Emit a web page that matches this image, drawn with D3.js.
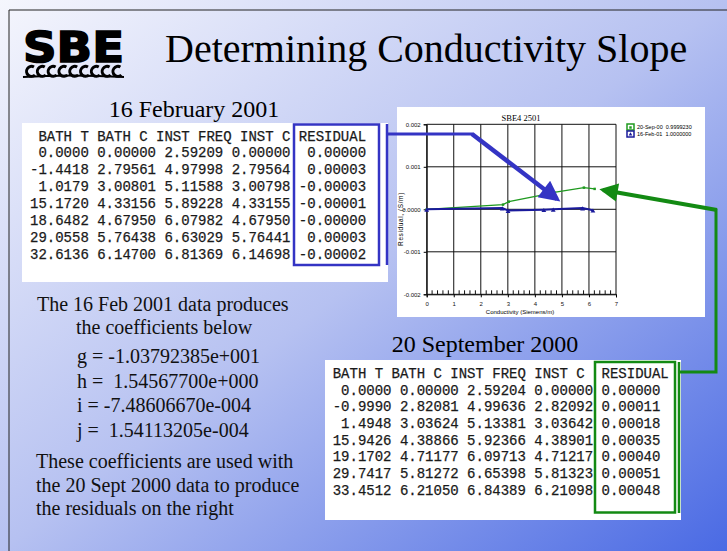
<!DOCTYPE html>
<html>
<head>
<meta charset="utf-8">
<script src="https://cdn.jsdelivr.net/npm/d3@7"></script>
<style>
  html, body { margin: 0; padding: 0; background: #fff; }
  svg { display: block; }
</style>
</head>
<body>
<div id="slide"></div>
<script>
// 16 Feb 2001 calibration
const febBathT = [0.0, -1.4418, 1.0179, 15.172, 18.6482, 29.0558, 32.6136]
const febBathC = [0.0, 2.79561, 3.00801, 4.33156, 4.6795, 5.76438, 6.147]
const febInstFreq = [2.59209, 4.97998, 5.11588, 5.89228, 6.07982, 6.63029, 6.81369]
const febInstC = [0.0, 2.79564, 3.00798, 4.33155, 4.6795, 5.76441, 6.14698]
const febResidual = [0.0, 0.00003, -0.00003, -0.00001, -0.000001, 0.00003, -0.00002]

// 20 Sep 2000 calibration
const sepBathT = [0.0, -0.999, 1.4948, 15.9426, 19.1702, 29.7417, 33.4512]
const sepBathC = [0.0, 2.82081, 3.03624, 4.38866, 4.71177, 5.81272, 6.2105]
const sepInstFreq = [2.59204, 4.99636, 5.13381, 5.92366, 6.09713, 6.65398, 6.84389]
const sepInstC = [0.0, 2.82092, 3.03642, 4.38901, 4.71217, 5.81323, 6.21098]
const sepResidual = [0.0, 0.00011, 0.00018, 0.00035, 0.0004, 0.00051, 0.00048]

const xTicks = [0, 1, 2, 3, 4, 5, 6, 7]
const yTicks = [-0.002, -0.001, 0, 0.001, 0.002]
const legendLabels = ["20-Sep-00  0.9999230", "16-Feb-01  1.0000000"]

const coefLines = [
  "g = -1.03792385e+001",
  "h =  1.54567700e+000",
  "i = -7.48606670e-004",
  "j =  1.54113205e-004"
]

const W = 727, H = 551
const serif = "'Liberation Serif', 'Times New Roman', serif"
const mono = "'Liberation Mono', 'Courier New', monospace"
const sans = "'Liberation Sans', Arial, sans-serif"

const svg = d3.select("#slide").append("svg")
  .attr("width", W)
  .attr("height", H)

const defs = svg.append("defs")
const grad = defs.append("linearGradient")
  .attr("id", "bg")
  .attr("x1", 0).attr("y1", 0).attr("x2", 1).attr("y2", 1)
grad.append("stop").attr("offset", 0).attr("stop-color", "#f5f6fd")
grad.append("stop").attr("offset", 0.5).attr("stop-color", "#b6c1f1")
grad.append("stop").attr("offset", 1).attr("stop-color", "#4a6ae4")

svg.append("rect").attr("width", W).attr("height", H).attr("fill", "url(#bg)")
// slide frame
svg.append("path")
  .attr("d", `M9,${H} V10 H${W}`)
  .attr("fill", "none").attr("stroke", "#222").attr("stroke-width", 1)

// ---- logo
svg.append("text")
  .attr("x", 23).attr("y", 62)
  .attr("font-family", "'DejaVu Sans', sans-serif")
  .attr("font-weight", "bold")
  .attr("font-size", 43)
  .attr("textLength", 101)
  .attr("lengthAdjust", "spacingAndGlyphs")
  .attr("fill", "#000")
  .attr("stroke", "#000").attr("stroke-width", 1.6)
  .text("SBE")
const waves = svg.append("g")
for (let k = 0; k < 9; k++) {
  const cx = 30 + k * 10.8
  waves.append("path")
    .attr("d", `M${cx + 4},${67} A5,5 0 1,0 ${cx + 5},${75}`)
    .attr("fill", "none").attr("stroke", "#000").attr("stroke-width", 3)
}
waves.append("path")
  .attr("d", "M23,77 Q70,74 124,77")
  .attr("fill", "none").attr("stroke", "#000").attr("stroke-width", 2.2)

// ---- title
svg.append("text")
  .attr("x", 165).attr("y", 62)
  .attr("font-family", serif)
  .attr("font-size", 40)
  .attr("fill", "#000")
  .text("Determining Conductivity Slope")

// ---- tables
const f5 = v => Math.abs(v).toFixed(5)
const pad = (s, n) => s.padStart(n, " ")

function drawTable(opts) {
  const g = svg.append("g")
  g.append("rect")
    .attr("x", opts.panel[0]).attr("y", opts.panel[1])
    .attr("width", opts.panel[2]).attr("height", opts.panel[3])
    .attr("fill", "#fff")
  g.append("text")
    .attr("x", opts.headX).attr("y", opts.headY)
    .attr("font-family", serif).attr("font-size", 24)
    .attr("text-anchor", "middle")
    .text(opts.heading)
  const lines = [opts.header].concat(opts.bathT.map((d, i) =>
    pad(d.toFixed(4), 7) + " " + f5(opts.bathC[i]) + " " + f5(opts.freq[i]) + " " +
    f5(opts.instC[i]) + opts.resid(opts.residual[i])))
  g.selectAll("text.row")
    .data(lines)
    .join("text")
    .attr("class", "row")
    .attr("x", opts.x)
    .attr("y", (d, i) => opts.y0 + i * opts.dy)
    .attr("font-family", mono)
    .attr("font-size", 14)
    .attr("fill", "#1a1a1a")
    .attr("stroke", "#1a1a1a").attr("stroke-width", 0.25)
    .style("white-space", "pre")
    .text(d => d)
  g.append("rect")
    .attr("x", opts.box[0]).attr("y", opts.box[1])
    .attr("width", opts.box[2]).attr("height", opts.box[3])
    .attr("fill", "none").attr("stroke", opts.color).attr("stroke-width", 2.5)
}

drawTable({
  panel: [22, 123, 366, 159],
  heading: "16 February 2001", headX: 194, headY: 117,
  header: " BATH T BATH C INST FREQ INST C RESIDUAL",
  bathT: febBathT, bathC: febBathC, freq: febInstFreq, instC: febInstC, residual: febResidual,
  resid: v => " " + (v < 0 ? "-" : " ") + Math.abs(v).toFixed(5),
  x: 30, y0: 140.5, dy: 16.9,
  box: [294, 124.5, 85, 140.5], color: "#3434c4"
})

drawTable({
  panel: [325, 360, 356, 160],
  heading: "20 September 2000", headX: 485, headY: 352,
  header: "BATH T BATH C INST FREQ INST C  RESIDUAL",
  bathT: sepBathT, bathC: sepBathC, freq: sepInstFreq, instC: sepInstC, residual: sepResidual,
  resid: v => " " + (v < 0 ? "-" : "") + Math.abs(v).toFixed(5),
  x: 332.7, y0: 378, dy: 16.67,
  box: [595, 362, 80, 150.5], color: "#138a13"
})

// ---- left text
const txt = svg.append("g").attr("font-family", serif).attr("font-size", 20).attr("fill", "#111")
txt.append("text").attr("x", 37).attr("y", 311).text("The 16 Feb 2001 data produces")
txt.append("text").attr("x", 76).attr("y", 334).text("the coefficients below")
txt.selectAll("text.coef")
  .data(coefLines)
  .join("text")
  .attr("class", "coef")
  .attr("x", 77)
  .attr("y", (d, i) => 363 + i * 24.5)
  .style("white-space", "pre")
  .text(d => d)
const para = ["These coefficients are used with", "the 20 Sept 2000 data to produce", "the residuals on the right"]
txt.selectAll("text.para")
  .data(para)
  .join("text")
  .attr("class", "para")
  .attr("x", 36)
  .attr("y", (d, i) => 468 + i * 23.5)
  .text(d => d)

// ---- chart
svg.append("rect")
  .attr("x", 397).attr("y", 107).attr("width", 308).attr("height", 210)
  .attr("fill", "#fff")

const x = d3.scaleLinear().domain([0, 7]).range([426.7, 616])
const y = d3.scaleLinear().domain([-0.002, 0.002]).range([294.3, 124.3])

const chart = svg.append("g")

// grid
chart.selectAll("line.vg")
  .data(xTicks)
  .join("line")
  .attr("class", "vg")
  .attr("x1", d => x(d)).attr("x2", d => x(d))
  .attr("y1", y.range()[1]).attr("y2", y.range()[0])
  .attr("stroke", "#111").attr("stroke-width", 1)
chart.selectAll("line.hg")
  .data(yTicks)
  .join("line")
  .attr("class", "hg")
  .attr("x1", x.range()[0]).attr("x2", x.range()[1])
  .attr("y1", d => y(d)).attr("y2", d => y(d))
  .attr("stroke", "#111").attr("stroke-width", 1)

// minor ticks on x axis
const minor = d3.range(0, 7, 0.2).filter(v => Math.abs(v - Math.round(v)) > 0.01)
chart.selectAll("line.mt")
  .data(minor)
  .join("line")
  .attr("class", "mt")
  .attr("x1", d => x(d)).attr("x2", d => x(d))
  .attr("y1", y.range()[0]).attr("y2", y.range()[0] - 4)
  .attr("stroke", "#111")

const yFmt = v => v === 0 ? "0.0000" : (v < 0 ? "-" : "") + Math.abs(v).toFixed(3)

const xAxis = chart.append("g")
  .attr("transform", `translate(0,${y.range()[0]})`)
  .call(d3.axisBottom(x).tickValues(xTicks).tickSize(3).tickFormat(d3.format("d")))
const yAxis = chart.append("g")
  .attr("transform", `translate(${x.range()[0]},0)`)
  .call(d3.axisLeft(y).tickValues(yTicks).tickSize(3).tickFormat(yFmt))
for (const a of [xAxis, yAxis]) {
  a.select(".domain").attr("stroke", "#111")
  a.selectAll("text").attr("font-family", sans).attr("font-size", 6).attr("fill", "#111")
}
xAxis.selectAll("text").attr("dy", "0.9em")

chart.append("text")
  .attr("x", 521).attr("y", 121)
  .attr("text-anchor", "middle")
  .attr("font-family", serif).attr("font-size", 8.5)
  .text("SBE4 2501")
chart.append("text")
  .attr("x", 520).attr("y", 314)
  .attr("text-anchor", "middle")
  .attr("font-family", sans).attr("font-size", 6)
  .text("Conductivity (Siemens/m)")
chart.append("text")
  .attr("transform", "translate(403,219) rotate(-90)")
  .attr("text-anchor", "middle")
  .attr("font-family", sans).attr("font-size", 6.5)
  .attr("letter-spacing", 0.6)
  .text("Residual, (S/m)")

const line = d3.line().x(d => x(d[0])).y(d => y(d[1]))
const sepPts = sepInstC.map((c, i) => [c, sepResidual[i]])
const febPts = febInstC.map((c, i) => [c, febResidual[i]])

chart.append("path")
  .attr("d", line(sepPts))
  .attr("fill", "none").attr("stroke", "#1f9a1f").attr("stroke-width", 1.2)
chart.selectAll("path.sm")
  .data(sepPts)
  .join("path")
  .attr("class", "sm")
  .attr("d", d3.symbol(d3.symbolSquare, 6))
  .attr("transform", d => `translate(${x(d[0])},${y(d[1])})`)
  .attr("fill", "#1f9a1f")

chart.append("path")
  .attr("d", line(febPts))
  .attr("fill", "none").attr("stroke", "#1a1a9c").attr("stroke-width", 2)
chart.selectAll("path.fm")
  .data(febPts)
  .join("path")
  .attr("class", "fm")
  .attr("d", d3.symbol(d3.symbolTriangle, 10))
  .attr("transform", d => `translate(${x(d[0])},${y(d[1]) + 1})`)
  .attr("fill", "#1a1a9c")

// legend
const legColors = ["#1f9a1f", "#1a1a9c"]
const leg = chart.selectAll("g.leg")
  .data(legendLabels)
  .join("g")
  .attr("class", "leg")
  .attr("transform", (d, i) => `translate(627,${124 + i * 7})`)
leg.append("rect")
  .attr("width", 7).attr("height", 6)
  .attr("fill", "#fff").attr("stroke", (d, i) => legColors[i]).attr("stroke-width", 1.5)
leg.append("path")
  .attr("d", (d, i) => d3.symbol(i ? d3.symbolTriangle : d3.symbolSquare, 6)())
  .attr("transform", "translate(3.5,3.5)")
  .attr("fill", (d, i) => legColors[i])
leg.append("text")
  .attr("x", 10).attr("y", 5)
  .attr("font-family", sans).attr("font-size", 5.5)
  .style("white-space", "pre")
  .text(d => d)

// ---- arrows
defs.append("marker")
  .attr("id", "headBlue")
  .attr("viewBox", "0 0 10 10").attr("refX", 8).attr("refY", 5)
  .attr("markerWidth", 5).attr("markerHeight", 4.6)
  .attr("markerUnits", "strokeWidth")
  .attr("orient", "auto")
  .append("path").attr("d", "M0,0 L10,5 L0,10 z").attr("fill", "#3434c4")
defs.append("marker")
  .attr("id", "headGreen")
  .attr("viewBox", "0 0 10 10").attr("refX", 8).attr("refY", 5)
  .attr("markerWidth", 4.8).attr("markerHeight", 4.6)
  .attr("markerUnits", "strokeWidth")
  .attr("orient", "auto")
  .append("path").attr("d", "M0,0 L10,5 L0,10 z").attr("fill", "#138a13")

svg.append("path")
  .attr("d", "M387,124 V265")
  .attr("stroke", "#3434c4").attr("stroke-width", 2.5).attr("fill", "none")
svg.append("path")
  .attr("d", "M386,134 H473")
  .attr("stroke", "#3434c4").attr("stroke-width", 3).attr("fill", "none")
svg.append("path")
  .attr("d", "M472,134 L557,199")
  .attr("stroke", "#3434c4").attr("stroke-width", 4.5).attr("fill", "none")
  .attr("marker-end", "url(#headBlue)")

svg.append("path")
  .attr("d", "M679,362 V513")
  .attr("stroke", "#138a13").attr("stroke-width", 2.5).attr("fill", "none")
svg.append("path")
  .attr("d", "M679,372 H716 V209")
  .attr("stroke", "#138a13").attr("stroke-width", 3).attr("fill", "none")
svg.append("path")
  .attr("d", "M717,210 L603,190")
  .attr("stroke", "#138a13").attr("stroke-width", 4).attr("fill", "none")
  .attr("marker-end", "url(#headGreen)")
</script>
</body>
</html>
